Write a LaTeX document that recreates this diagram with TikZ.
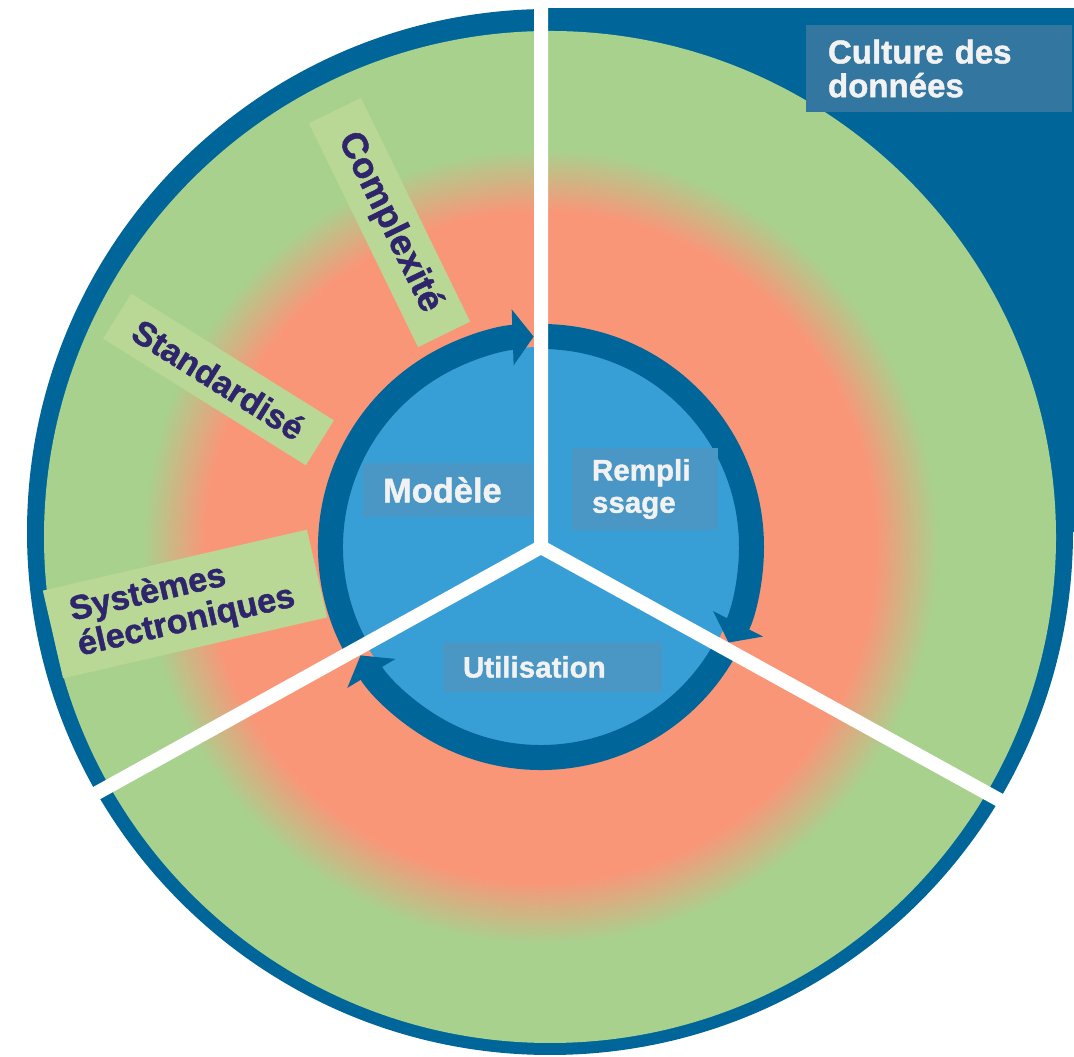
\documentclass[tikz,border=0pt]{standalone}
\usepackage{fontspec}
\setmainfont{Liberation Sans}
\newfontfamily\heavy[FakeBold=1.3]{Liberation Sans Bold}
\usepackage{tikz}
\usetikzlibrary{arrows.meta,positioning,calc}

\definecolor{ringblue}{HTML}{006699}
\definecolor{discblue}{HTML}{389ED6}
\definecolor{boxblue}{HTML}{4A97C6}
\definecolor{cultblue}{HTML}{33769F}
\definecolor{leafgreen}{HTML}{A9D18E}
\definecolor{taggreen}{HTML}{B9D795}
\definecolor{salmon}{HTML}{FA9678}
\definecolor{inkpurple}{HTML}{2F256C}
\definecolor{paper}{HTML}{F2F2F2}

\begin{document}
\begin{tikzpicture}[
  ring/.style={line width=0.25cm, ringblue, -{Triangle[length=0.21cm,width=0.55cm]}},
  spoke/.style={line width=0.14cm, white, line cap=round, line join=round},
  tag/.style={fill=taggreen, text=inkpurple, inner sep=0pt,
    font=\fontsize{9.7}{10.2}\selectfont\heavy},
  phase/.style={fill=boxblue, text=paper, align=left, inner xsep=0.2cm, inner ysep=0pt,
    font=\fontsize{8.4}{9.2}\selectfont\heavy}]
\useasboundingbox (0,0) rectangle (10.74,10.57);
\coordinate (C) at (5.41,5.10);
\coordinate (O) at (5.50,5.25);
% Dark corner and outer rim
\fill[ringblue] (5.45,5.25) rectangle (10.74,10.49);
\fill[ringblue] (O) circle (5.23);
\fill[leafgreen] (5.50,5.20) circle (5.06);
% Blend from green to salmon towards the centre
\foreach \r in {0,...,63} {
  \pgfmathtruncatemacro{\mix}{100*\r/63}
  \fill[salmon!\mix!leafgreen] (C) circle ({3.98-0.01*\r});
}
\fill[salmon] (C) circle (3.35);
% Inner cycle
\fill[discblue] (C) circle (2.0);
\draw[ring] ($(C)+(209:2.105)$) arc[start angle=209, end angle=92, radius=2.105];
\draw[ring] ($(C)+(90:2.105)$) arc[start angle=90, end angle=-27, radius=2.105];
\draw[ring] ($(C)+(-29:2.105)$) arc[start angle=-29, end angle=-149, radius=2.105];
% Spokes
\coordinate (topend) at (5.41,10.65);
\coordinate (leftend) at (0.95,2.63);
\coordinate (rightend) at (10.03,2.55);
\draw[spoke] (topend) -- (C) -- (leftend);
\draw[spoke] (C) -- (rightend);
% Phases
\node[phase, font=\fontsize{9.8}{10}\selectfont\heavy, text width=1.29cm,
  minimum height=0.54cm] (modele) at (4.475,5.67) {Modèle};
\node[phase, text width=1.06cm, minimum height=0.82cm] (remplissage) at (6.45,5.68) {Rempli\\ssage};
\node[phase, text width=1.79cm, minimum height=0.50cm] (utilisation) at (5.525,3.90) {Utilisation};
% Tags
\node[tag, font=\fontsize{10.3}{11}\selectfont\heavy, minimum width=2.49cm,
  minimum height=0.58cm, rotate=-64] (complexite) at (3.895,8.345) {Complexité};
\node[tag, minimum width=2.39cm, minimum height=0.53cm, rotate=-32] (standard) at (2.185,6.775) {Standardisé};
\node[tag, text width=2.27cm, align=left, inner xsep=0.22cm, minimum height=0.90cm,
  rotate=13] (systemes) at (1.85,4.53) {Systèmes\\électroniques};
\node[fill=cultblue, text=paper, font=\fontsize{9.4}{9.6}\selectfont\heavy,
  text width=2.22cm, align=left, inner xsep=0.22cm, inner ysep=0pt,
  minimum height=0.87cm] (culture) at (9.39,9.885) {Culture des\\données};
\end{tikzpicture}
\end{document}
